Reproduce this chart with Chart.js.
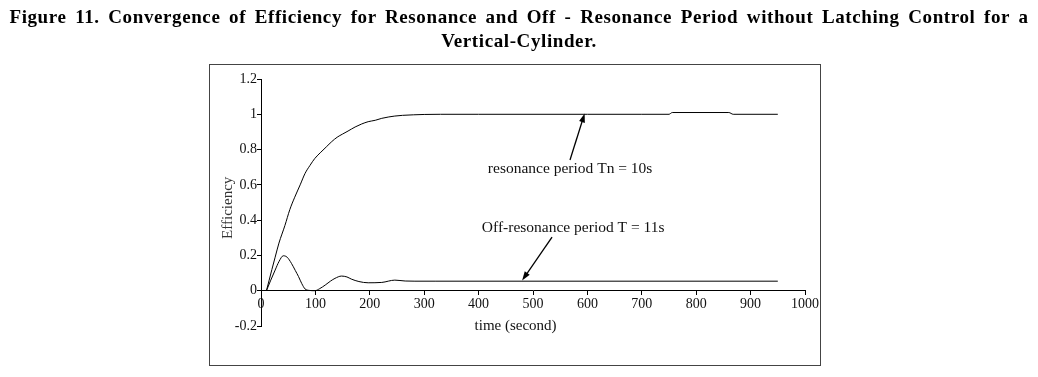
<!DOCTYPE html>
<html>
<head>
<meta charset="utf-8">
<script src="https://cdn.jsdelivr.net/npm/chart.js@4.4.1/dist/chart.umd.min.js"></script>
<style>
  html, body { margin: 0; padding: 0; background: #fff; }
  #wrap { position: relative; width: 1038px; height: 377px; overflow: hidden; }
  #title { position: absolute; left: 0; top: 5px; width: 1038px; text-align: center;
           font: bold 19px "Liberation Serif", "DejaVu Serif", serif; letter-spacing: 0.6px; word-spacing: 3.3px;
           line-height: 24px; color: #000; z-index: 2; white-space: nowrap; }
  canvas { position: absolute; left: 0; top: 0; }
</style>
</head>
<body>
<div id="wrap">
  <div id="title">Figure 11. Convergence of Efficiency for Resonance and Off - Resonance Period without Latching Control for a<br>Vertical-Cylinder.</div>
  <canvas id="c" width="1038" height="377"></canvas>
</div>
<script>
// ---- data ----
const resT = [10, 15, 20, 26, 33, 44, 53, 62, 72, 81, 90, 99, 110, 120, 130, 140, 150, 160, 173, 185, 197, 210, 222, 235, 246, 260, 280, 300, 330, 400, 500, 600, 700, 750, 756, 860, 868, 950];
const resE = [0, 0.06, 0.12, 0.19, 0.27, 0.37, 0.46, 0.53, 0.60, 0.665, 0.71, 0.75, 0.785, 0.815, 0.845, 0.87, 0.888, 0.905, 0.928, 0.945, 0.958, 0.966, 0.977, 0.985, 0.99, 0.994, 0.997, 0.999, 1.0, 1.0, 1.0, 1.0, 1.0, 1.0, 1.01, 1.01, 1.0, 1.0];

const offT = [10, 18, 26, 33, 41, 48, 56, 63, 69, 75, 81, 88, 99, 108, 118, 128, 136, 148, 158, 166, 180, 197, 222, 246, 265, 283, 320, 950];
const offE = [0, 0.06, 0.117, 0.165, 0.198, 0.19, 0.155, 0.115, 0.08, 0.04, 0.01, 0.002, 0, 0.012, 0.032, 0.055, 0.07, 0.083, 0.078, 0.066, 0.052, 0.045, 0.047, 0.06, 0.055, 0.054, 0.054, 0.054];

const xTickValues = [0, 100, 200, 300, 400, 500, 600, 700, 800, 900, 1000];
const xTickLabels = ['0', '100', '200', '300', '400', '500', '600', '700', '800', '900', '1000'];
const yTickValues = [-0.2, 0, 0.2, 0.4, 0.6, 0.8, 1, 1.2];
const yTickLabels = ['-0.2', '0', '0.2', '0.4', '0.6', '0.8', '1', '1.2'];

const xTitle = 'time (second)';
const yTitle = 'Efficiency';
const resLabel = 'resonance period Tn = 10s';
const offLabel = 'Off-resonance period T = 11s';

const FONT = '"Liberation Serif", "DejaVu Serif", serif';

const toPts = (xs, ys) => xs.map((x, i) => ({ x: x, y: ys[i] }));

const decor = {
  id: 'decor',
  beforeDraw(chart) {
    const ctx = chart.ctx;
    ctx.save();
    ctx.strokeStyle = '#444';
    ctx.lineWidth = 1;
    ctx.strokeRect(209.5, 64.5, 611, 301);
    ctx.restore();
  },
  afterDraw(chart) {
    const ctx = chart.ctx;
    const xs = chart.scales.x, ys = chart.scales.y;
    const px = v => xs.getPixelForValue(v), py = v => ys.getPixelForValue(v);
    ctx.save();
    ctx.fillStyle = '#111';
    ctx.textBaseline = 'middle';
    ctx.textAlign = 'left';
    ctx.font = '15.5px ' + FONT;
    ctx.fillText(resLabel, px(417), py(0.69));
    ctx.fillText(offLabel, px(406), py(0.355));
    ctx.textAlign = 'center';
    ctx.font = '15px ' + FONT;
    ctx.fillText(xTitle, px(468), py(-0.2));
    ctx.save();
    ctx.translate(px(-60), py(0.47));
    ctx.rotate(-Math.PI / 2);
    ctx.fillStyle = '#333';
    ctx.fillText(yTitle, 0, 0);
    ctx.restore();

    function arrow(x1, y1, x2, y2) {
      const a = Math.atan2(y2 - y1, x2 - x1);
      const L = 9, W = 3;
      ctx.strokeStyle = '#000';
      ctx.lineWidth = 1.3;
      ctx.beginPath();
      ctx.moveTo(x1, y1);
      ctx.lineTo(x2 - L * 0.6 * Math.cos(a), y2 - L * 0.6 * Math.sin(a));
      ctx.stroke();
      ctx.fillStyle = '#000';
      ctx.beginPath();
      ctx.moveTo(x2, y2);
      ctx.lineTo(x2 - L * Math.cos(a) + W * Math.sin(a), y2 - L * Math.sin(a) - W * Math.cos(a));
      ctx.lineTo(x2 - L * Math.cos(a) - W * Math.sin(a), y2 - L * Math.sin(a) + W * Math.cos(a));
      ctx.closePath();
      ctx.fill();
    }
    arrow(px(568), py(0.741), px(595), py(1.005));
    arrow(px(535), py(0.304), px(480), py(0.058));
    ctx.restore();
  }
};

new Chart(document.getElementById('c'), {
  type: 'line',
  data: {
    datasets: [
      { data: toPts(resT, resE), borderColor: '#000', borderWidth: 1, pointRadius: 0, cubicInterpolationMode: 'monotone', fill: false },
      { data: toPts(offT, offE), borderColor: '#000', borderWidth: 1, pointRadius: 0, cubicInterpolationMode: 'monotone', fill: false }
    ]
  },
  options: {
    responsive: false,
    animation: false,
    events: [],
    layout: { padding: { left: 211, right: 233, top: 79, bottom: 51 } },
    plugins: { legend: { display: false }, title: { display: false }, tooltip: { enabled: false } },
    scales: {
      x: {
        type: 'linear',
        position: { y: 0 },
        min: 0, max: 1000,
        afterBuildTicks: s => { s.ticks = xTickValues.map(v => ({ value: v })); },
        ticks: { callback: (v, i) => xTickLabels[i], color: '#111', font: { family: FONT, size: 14 }, padding: 1, maxRotation: 0, autoSkip: false },
        grid: { drawOnChartArea: false, drawTicks: true, tickLength: 4, color: '#000' },
        border: { display: true, color: '#000', width: 1 }
      },
      y: {
        type: 'linear',
        position: 'left',
        min: -0.2, max: 1.2,
        afterBuildTicks: s => { s.ticks = yTickValues.map(v => ({ value: v })); },
        afterFit: s => { s.width = 50; },
        ticks: { callback: (v, i) => yTickLabels[i], color: '#111', font: { family: FONT, size: 14 }, padding: 0 },
        grid: { drawOnChartArea: false, drawTicks: true, tickLength: 4, color: '#000' },
        border: { display: true, color: '#000', width: 1 }
      }
    }
  },
  plugins: [decor]
});
</script>
</body>
</html>
